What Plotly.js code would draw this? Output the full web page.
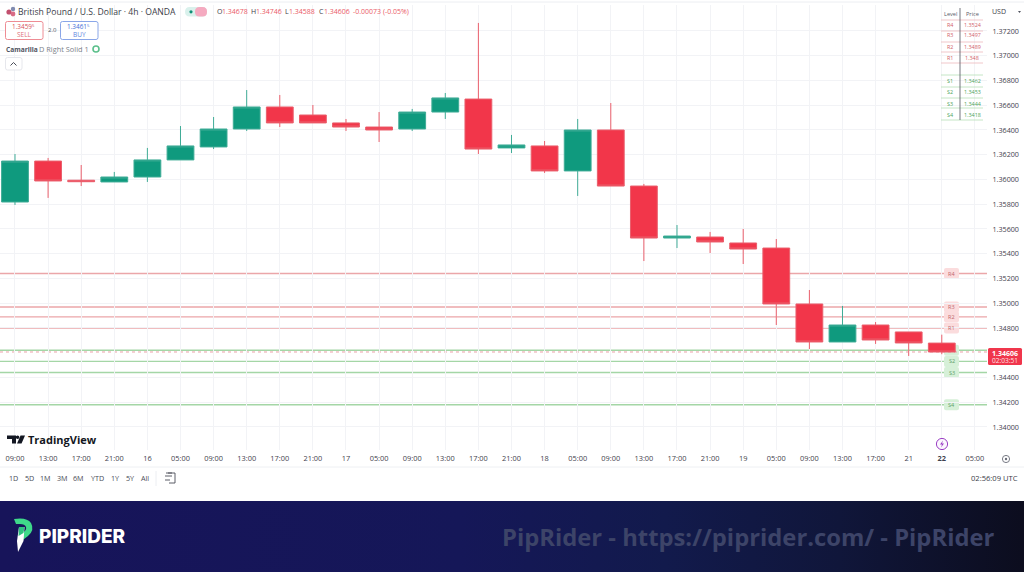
<!DOCTYPE html>
<html>
<head>
<meta charset="utf-8">
<script src="https://cdn.plot.ly/plotly-3.0.1.min.js"></script>
<style>
html,body{margin:0;padding:0;background:#fff;width:1024px;height:572px;overflow:hidden}
#band{position:absolute;left:0;top:501px;width:1024px;height:71px;background:linear-gradient(90deg,#17145a 0%,#151758 45%,#121a4c 65%,#10163a 82%,#0c0d1e 100%)}
#chart{position:absolute;left:0;top:0;width:1024px;height:572px}
</style>
</head>
<body>
<div id="band"></div>
<div id="chart"></div>
<script>
// ---- chart data ----
const opens  = [1.35818,1.36149,1.35994,1.3598,1.3602,1.36158,1.36263,1.36408,1.36586,1.36521,1.36457,1.36424,1.36408,1.36545,1.3665,1.36255,1.36271,1.36069,1.364,1.35947,1.35527,1.35535,1.35487,1.35446,1.34994,1.34687,1.34824,1.34768,1.34678];
const highs  = [1.36206,1.36174,1.36117,1.36061,1.36255,1.36432,1.36505,1.36723,1.36683,1.36602,1.36489,1.36545,1.3657,1.36699,1.37265,1.3636,1.36311,1.36489,1.36618,1.35964,1.35632,1.35576,1.356,1.35519,1.35107,1.34978,1.34848,1.34768,1.34746];
const lows   = [1.35794,1.35851,1.35947,1.3598,1.3598,1.36158,1.36246,1.36392,1.36424,1.36457,1.36392,1.36303,1.36392,1.36489,1.36206,1.36214,1.36053,1.35867,1.35947,1.35341,1.35446,1.35406,1.35317,1.34824,1.3463,1.34687,1.34671,1.34574,1.34588];
const closes = [1.36149,1.35988,1.35982,1.3602,1.36158,1.36271,1.36408,1.36586,1.36457,1.36457,1.36424,1.364,1.36545,1.36659,1.36246,1.36279,1.36069,1.364,1.35947,1.35527,1.35543,1.35495,1.35438,1.34994,1.34687,1.34824,1.34703,1.34679,1.34606];
const candleIndex = [0,1,2,3,4,5,6,7,8,9,10,11,12,13,14,15,16,17,18,19,20,21,22,23,24,25,26,27,28];
const timeTickIndex = [0,1,2,3,4,5,6,7,8,9,10,11,12,13,14,15,16,17,18,19,20,21,22,23,24,25,26,27,28,29];
const timeTickLabels = ["09:00","13:00","17:00","21:00","16","05:00","09:00","13:00","17:00","21:00","17","05:00","09:00","13:00","17:00","21:00","18","05:00","09:00","13:00","17:00","21:00","19","05:00","09:00","13:00","17:00","21","<b>22</b>","05:00"];
const priceTicks = [1.34,1.342,1.344,1.348,1.35,1.352,1.354,1.356,1.358,1.36,1.362,1.364,1.366,1.368,1.37,1.372];
const levelNames = ["R4","R3","R2","R1","S1","S2","S3","S4"];
const levelValues = [1.3524,1.3497,1.3489,1.348,1.3462,1.3453,1.3444,1.3418];
const levelTexts = ["1.3524","1.3497","1.3489","1.348","1.3462","1.3453","1.3444","1.3418"];
const rangeButtons = ["1D","5D","1M","3M","6M","YTD","1Y","5Y","All"];
const lastPrice = 1.34606;

// ---- frame ----
const L=0,R=987,T=5,B=450,W=1024,H=572;
const pw=R-L, ph=B-T;
const xRange=[-0.453,29.366], yRange=[1.33814,1.37410];
const fx=p=>(p-L)/pw, fy=p=>1-(p-T)/ph;
const yPix=v=>T+(yRange[1]-v)/(yRange[1]-yRange[0])*ph;
const pathPx=s=>s.replace(/(-?[\d.]+),(-?[\d.]+)/g,(m,a,b)=>fx(+a)+','+fy(+b));
const annotations=[], shapes=[];
const FONT='"Open Sans", sans-serif';
function note(text,x,y,size,color,anchor,weight,family){
  annotations.push({text:text,xref:'paper',yref:'paper',x:fx(x),y:fy(y),xanchor:anchor||'left',yanchor:'middle',
    showarrow:false,font:{family:family||FONT,size:size,color:color,weight:weight||400},borderpad:0,borderwidth:0});
}
function hline(x0,x1,y,color,w){shapes.push({type:'line',xref:'paper',yref:'paper',x0:fx(x0),x1:fx(x1),y0:fy(y),y1:fy(y),line:{color:color,width:w||1},layer:'above'});}
function vline(x,y0,y1,color,w){shapes.push({type:'line',xref:'paper',yref:'paper',x0:fx(x),x1:fx(x),y0:fy(y0),y1:fy(y1),line:{color:color,width:w||1},layer:'above'});}
function circle(x,y,r,fill,line,lw){shapes.push({type:'circle',xref:'paper',yref:'paper',x0:fx(x-r),x1:fx(x+r),y0:fy(y-r),y1:fy(y+r),fillcolor:fill||'rgba(0,0,0,0)',line:{color:line||'rgba(0,0,0,0)',width:lw||0},layer:'above'});}
function path(d,fill,line,lw){shapes.push({type:'path',xref:'paper',yref:'paper',path:pathPx(d),fillcolor:fill||'rgba(0,0,0,0)',line:{color:line||'rgba(0,0,0,0)',width:lw||0},layer:'above'});}
function roundRect(x0,y0,x1,y1,r,fill,layer,line,lw){
  const d=`M${x0+r},${y0} L${x1-r},${y0} Q${x1},${y0} ${x1},${y0+r} L${x1},${y1-r} Q${x1},${y1} ${x1-r},${y1} L${x0+r},${y1} Q${x0},${y1} ${x0},${y1-r} L${x0},${y0+r} Q${x0},${y0} ${x0+r},${y0} Z`;
  shapes.push({type:'path',xref:'paper',yref:'paper',path:pathPx(d),fillcolor:fill,line:{width:lw||0,color:line||'rgba(0,0,0,0)'},layer:layer||'above'});
}

// ---- Camarilla levels (data-driven lines and tags) ----
levelValues.forEach((v,i)=>{
  const res=levelNames[i][0]==='R';
  shapes.push({type:'line',xref:'paper',yref:'y',x0:0,x1:1,y0:v,y1:v,layer:'below',line:{color:res?'#eba6a9':'#a4d6a6',width:1.4}});
  const py=yPix(v);
  roundRect(944,py-5.5,959,py+5.5,2,res?'#fbdcdd':'#d6f0d8','below');
  if(levelNames[i]!=='S1') note(levelNames[i],951.5,py,5.5,res?'#c0666c':'#5f9f68','center');
});
shapes.push({type:'line',xref:'paper',yref:'y',x0:0,x1:1,y0:lastPrice,y1:lastPrice,layer:'below',line:{color:'#e9a0a6',width:1,dash:'dot'}});

// ---- header ----
hline(0,1024,2,'#eceef2',1);
circle(9,12,2.6,'#c2506e'); circle(13,9,2.2,'#7f8bb0'); circle(13,14,2.4,'#d86b86');
note('British Pound / U.S. Dollar · 4h · OANDA',18,12,8.6,'#3a3d48');
roundRect(185,7,207,16.5,4.7,'#d9f1ec'); roundRect(195,7,207,16.5,4.5,'#f5aac0');
circle(191,11.8,1.6,'#0f8f76');
note('O',217,12,7,'#3a3d48'); note('1.34678',222,12,7,'#ea5a66');
note('H',251,12,7,'#3a3d48'); note('1.34746',256,12,7,'#ea5a66');
note('L',285,12,7,'#3a3d48'); note('1.34588',289,12,7,'#ea5a66');
note('C',319,12,7,'#3a3d48'); note('1.34606',324,12,7,'#ea5a66');
note('-0.00073 (-0.05%)',353,12,7,'#ea5a66');
roundRect(5.5,21.5,43,39.5,2,'#ffffff','above','#ee8c94',1);
roundRect(60.5,21.5,98,39.5,2,'#ffffff','above','#8aa6e8',1);
note('1.3459',21.5,26.5,6.4,'#d6505c','center');
note('5',33.5,25.2,4.2,'#d6505c','center');
note('SELL',24,34.5,6.5,'#e0707a','center');
note('2.0',52,30,6,'#50535e','center');
note('1.3461',76.5,26.5,6.4,'#3f6fd8','center');
note('5',88.5,25.2,4.2,'#3f6fd8','center');
note('BUY',79,34.5,6.5,'#5d86e0','center');
note('Camarilla',5.5,49,6.6,'#50535e','left',700);
note('D Right Solid 1',39,49,7.4,'#7c7f8a');
circle(96,49,3,'rgba(0,0,0,0)','#5cc08c',1.6);
roundRect(5.5,57.5,22,70,2,'#ffffff','above','#e6e7ec',1);
path('M10.5,65.5 L13.5,62.5 L16.5,65.5','rgba(0,0,0,0)','#4a4d58',1);

// ---- Level/Price table ----
note('Level',950,14,5.6,'#5a5d68','center');
note('Price',972,14,5.6,'#5a5d68','center');
const rowY=[25,35,47,58,81,92,104,115];
const rowLines=[20,31,42,52,63,75,87,98,108,120];
rowLines.forEach((y,i)=>hline(941,983,y,i<5?'#eeb9bc':'#b6dfb8',0.8));
vline(960,8,120,'#50535e',0.8);
levelNames.forEach((n,i)=>{
  const res=n[0]==='R', c=res?'#d2606a':'#4da35a';
  note(n,950,rowY[i],5.4,c,'center');
  note(levelTexts[i],972,rowY[i],5.4,c,'center');
});
note('USD',992,12,7,'#3a3d48');
path('M1018,11 L1021,11 L1019.5,13 Z','#50535e');

// ---- last price tag ----
roundRect(988,348,1022,365,1.5,'#f0364c');
note('1.34606',1005,353,7,'#ffffff','center',700);
note('02:03:51',1005,360.5,6.6,'#ffe0e3','center');

// ---- TradingView mark ----
path('M7,435.5 L16,435.5 L16,443.5 L12,443.5 L12,439 L7,439 Z','#131722');
circle(17.6,437.3,1.8,'#131722');
path('M20.5,435.5 L25,435.5 L21.5,443.5 L17,443.5 Z','#131722');
note('TradingView',27.5,439.5,11,'#131722','left',700);

// ---- lower toolbar ----
hline(0,1024,467,'#eef0f3',1);
const btnX=[13,29,45,62,78,97,115,130,145];
rangeButtons.forEach((b,i)=>note(b,btnX[i],478.5,7.2,'#4a4d58','center'));
vline(156,471,486,'#eceef2',1);
path('M168,473 L175,473 L175,483 L169,483','rgba(0,0,0,0)','#4a4d58',0.9);
path('M165,476 L172,476 M165,480 L170,480 M166,473 L172,473','rgba(0,0,0,0)','#4a4d58',0.9);
note('02:56:09 UTC',1018,478.5,7.6,'#3a3d48','right');
circle(942,444,5.6,'#fbf6fe','#9b3fc4',1);
path('M943,440.5 L940,444.5 L942,444.5 L941,447.5 L944,443.5 L942,443.5 Z','#9b3fc4');
circle(1006,459,3.6,'rgba(0,0,0,0)','#6a6d78',0.9);
circle(1006,459,1.2,'#6a6d78');

// ---- banner ----
path('M14,519 Q27,517 31,523 Q35,530 28,536 L21.5,541 L22.5,533 Q27,530 26,527 Q25,524 20,524 L16,524 Z','#3fd98a');
path('M19,527 L24.5,527 L23.5,541 L18,552 L17,541 Z','#ffffff');
path('M19,527 L24.5,527 L23.5,533 L18.5,536 Z','#2fc27f');
note('PIPRIDER',39,536,19,'#ffffff','left',800,'Inter, sans-serif');
note('PipRider - https://piprider.com/ - PipRider',502,537,23.8,'#3d4468','left',700);

const layout={
  width:W,height:H,margin:{l:L,r:W-R,t:T,b:H-B,pad:0},
  paper_bgcolor:'rgba(0,0,0,0)',plot_bgcolor:'rgba(0,0,0,0)',
  showlegend:false,dragmode:false,boxgap:0.19,boxgroupgap:0,
  font:{family:FONT,size:8,color:'#3a3d48'},
  xaxis:{type:'linear',range:xRange,tickmode:'array',tickvals:timeTickIndex,ticktext:timeTickLabels,showgrid:true,gridcolor:'#f2f3f6',gridwidth:1,
    zeroline:false,showline:false,ticks:'outside',ticklen:1,tickcolor:'rgba(0,0,0,0)',tickangle:0,tickfont:{family:FONT,size:7.4,color:'#3f424d'},rangeslider:{visible:false},fixedrange:true,automargin:false},
  yaxis:{type:'linear',side:'right',range:yRange,tickmode:'array',tickvals:priceTicks,tickformat:'.5f',showgrid:true,gridcolor:'#f2f3f6',gridwidth:1,
    zeroline:false,showline:false,ticks:'outside',ticklen:3,tickcolor:'rgba(0,0,0,0)',tickfont:{family:FONT,size:7.2,color:'#3f424d'},fixedrange:true,automargin:false},
  shapes:shapes,annotations:annotations
};
const data=[{type:'candlestick',x:candleIndex,open:opens,high:highs,low:lows,close:closes,whiskerwidth:0,hoverinfo:'none',
  increasing:{line:{color:'#3fac96',width:1},fillcolor:'#0f9a7e'},
  decreasing:{line:{color:'#ea5f6c',width:1},fillcolor:'#f2364a'}}];
Plotly.newPlot('chart',data,layout,{displayModeBar:false,staticPlot:true});
</script>
</body>
</html>
